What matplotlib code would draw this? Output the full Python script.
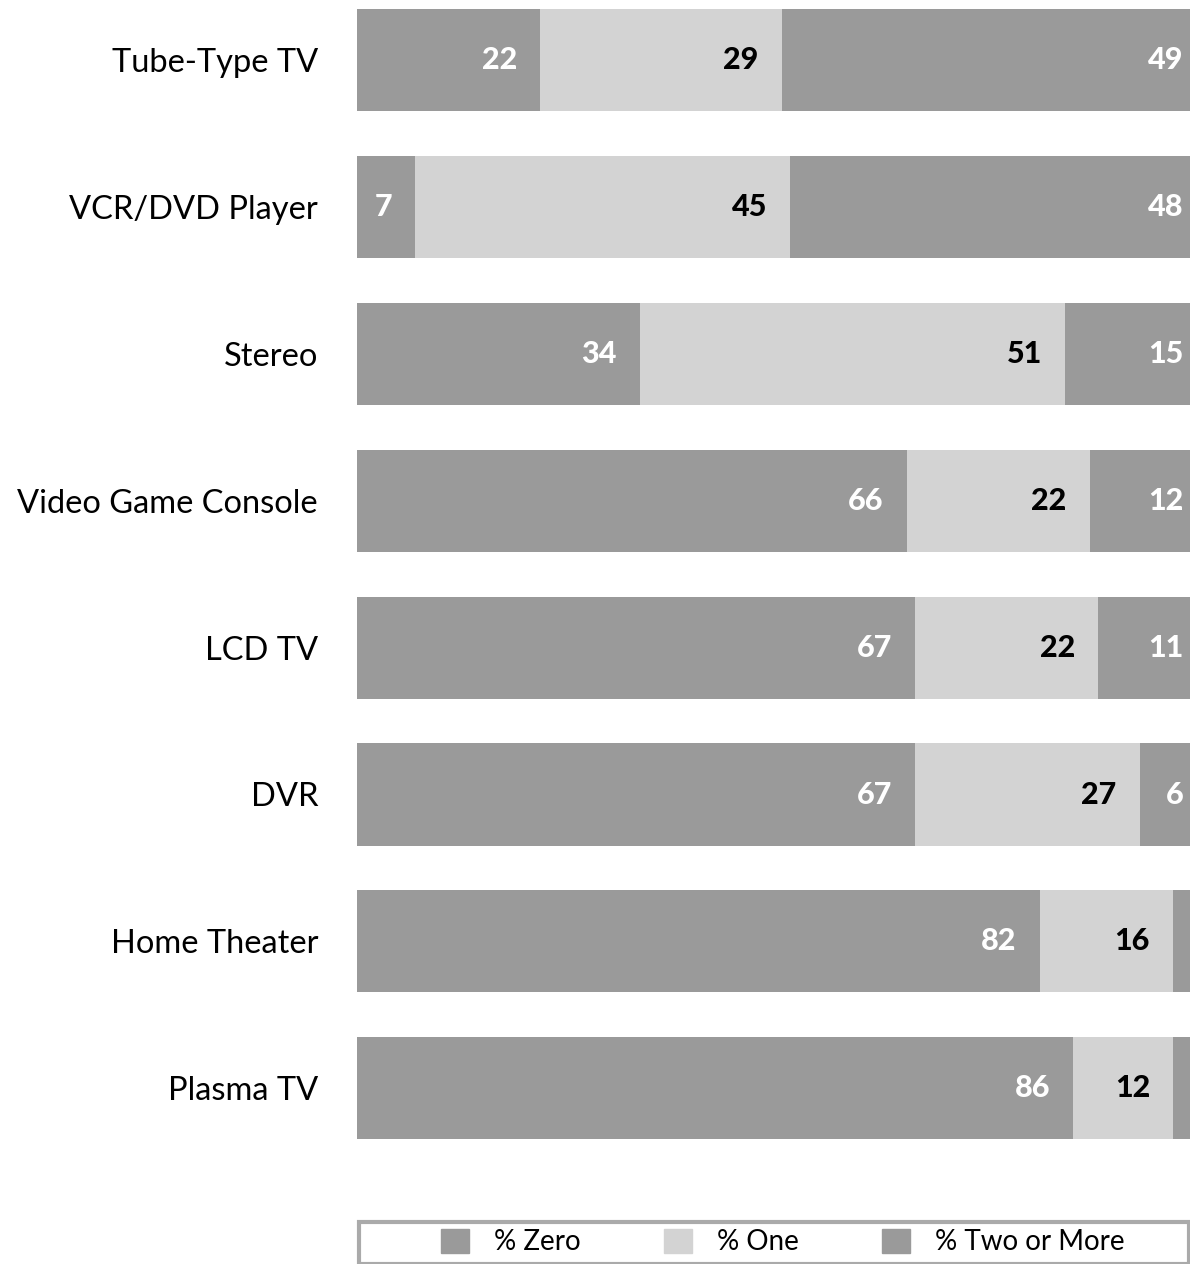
import numpy as np
import matplotlib.pyplot as plt
from matplotlib.patches import Rectangle

categories = ["Tube-Type TV", "VCR/DVD Player", "Stereo", "Video Game Console",
              "LCD TV", "DVR", "Home Theater", "Plasma TV"]
pct_zero = [22, 7, 34, 66, 67, 67, 82, 86]
pct_one = [29, 45, 51, 22, 22, 27, 16, 12]
pct_two = [49, 48, 15, 12, 11, 6, 2, 2]
series_names = ["% Zero", "% One", "% Two or More"]

plt.rcParams['font.family'] = ['Lato', 'DejaVu Sans']

W, H = 1190, 1264
fig = plt.figure(figsize=(W / 100, H / 100), dpi=100)

# axes spans bar area; ylim chosen so bar centers land where the reference has them
spacing = 146.9
ax = fig.add_axes([357 / W, (H - 1160) / H, 833 / W, 1160 / H])
y = np.arange(len(categories))

dark = "#9a9a9a"
light = "#d3d3d3"
colors = [dark, light, dark]
text_colors = ["white", "black", "white"]
pads = [2.8, 2.8, 0.8]
series = [pct_zero, pct_one, pct_two]

left = np.zeros(len(categories))
for vals, col, tcol, pad in zip(series, colors, text_colors, pads):
    vals = np.array(vals, dtype=float)
    ax.barh(y, vals, left=left, height=0.695, color=col, edgecolor="none")
    for yi, (l, v) in enumerate(zip(left, vals)):
        if v >= 5:
            ax.text(l + v - pad, yi, f"{int(v)}", ha="right", va="center",
                    color=tcol, fontsize=22, fontweight="black")
    left += vals

ax.set_xlim(0, 100)
ax.set_ylim((1160 - 60) / spacing, -60 / spacing)
ax.set_yticks(y)
ax.set_yticklabels(categories, fontsize=23.5)
ax.tick_params(axis="y", length=0, pad=28)
ax.set_xticks([])
for s in ax.spines.values():
    s.set_visible(False)

# legend box
fig.patches.append(Rectangle((359 / W, 0.5 / H), 830 / W, 42 / H, transform=fig.transFigure,
                             facecolor="white", edgecolor="#aaaaaa", linewidth=3))
handles = [Rectangle((0, 0), 1, 1, color=c) for c in colors]
fig.legend(handles, series_names, loc="center", bbox_to_anchor=(783 / W, 22 / H),
           ncol=3, frameon=False, fontsize=20, handlelength=1.0, handleheight=1.0,
           columnspacing=3.0, handletextpad=0.9, borderpad=0)

fig.savefig("out.png", dpi=100)
